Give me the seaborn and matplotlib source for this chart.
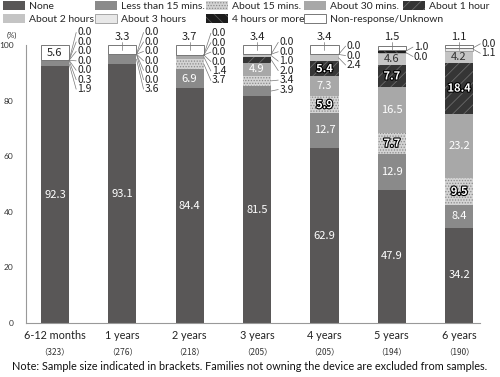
import matplotlib
matplotlib.use("Agg")
import numpy as np
import matplotlib.pyplot as plt
import matplotlib.patches as mpatches
import matplotlib.patheffects as pe
from matplotlib.transforms import blended_transform_factory
import seaborn as sns

# data (%)
categories = ["6-12 months", "1 years", "2 years", "3 years", "4 years", "5 years", "6 years"]
sample_sizes = [323, 276, 218, 205, 205, 194, 190]
none_vals = [92.3, 93.1, 84.4, 81.5, 62.9, 47.9, 34.2]
lt15_vals = [1.9, 3.6, 6.9, 3.9, 12.7, 12.9, 8.4]
m15_vals = [0.3, 0.0, 3.7, 3.4, 5.9, 7.7, 9.5]
m30_vals = [0.0, 0.0, 1.4, 4.9, 7.3, 16.5, 23.2]
h1_vals = [0.0, 0.0, 0.0, 2.0, 5.4, 7.7, 18.4]
h2_vals = [0.0, 0.0, 0.0, 1.0, 2.4, 4.6, 4.2]
h3_vals = [0.0, 0.0, 0.0, 0.0, 0.0, 0.0, 1.1]
h4_vals = [0.0, 0.0, 0.0, 0.0, 0.0, 1.0, 0.0]
nr_vals = [5.6, 3.3, 3.7, 3.4, 3.4, 1.5, 1.1]

series = [
    ("None", none_vals),
    ("Less than 15 mins.", lt15_vals),
    ("About 15 mins.", m15_vals),
    ("About 30 mins.", m30_vals),
    ("About 1 hour", h1_vals),
    ("About 2 hours", h2_vals),
    ("About 3 hours", h3_vals),
    ("4 hours or more", h4_vals),
    ("Non-response/Unknown", nr_vals),
]

# face, hatch, edge (hatch colour), edge width, text colour, outlined text
STYLE = {
    "None": ("#595757", None, "#595757", 0, "white", False),
    "Less than 15 mins.": ("#8a8a8a", None, "#8a8a8a", 0, "white", False),
    "About 15 mins.": ("#d4d4d4", "......", "#8a8a8a", 0, "white", True),
    "About 30 mins.": ("#a8a8a8", None, "#a8a8a8", 0, "white", False),
    "About 1 hour": ("#353535", "///", "#6a6a6a", 0, "white", True),
    "About 2 hours": ("#c4c4c4", None, "#c4c4c4", 0, "#333333", False),
    "About 3 hours": ("#e8e8e8", None, "#9a9a9a", 0.6, "#333333", False),
    "4 hours or more": ("#1c1c1c", "\\\\\\", "#555555", 0, "white", True),
    "Non-response/Unknown": ("#ffffff", None, "#777777", 0.7, "#222222", False),
}

sns.set_style("white")
plt.rcParams["font.family"] = ["Lato", "DejaVu Sans"]
plt.rcParams["hatch.linewidth"] = 0.6
NUM_FONT = ["Noto Sans CJK JP", "DejaVu Sans"]

fig = plt.figure(figsize=(5, 3.77), dpi=100)
ax = fig.add_axes([26 / 500, (377 - 323) / 377, (480 - 26) / 500, (323 - 45) / 377])

BAR_W = 0.42
bottom = np.zeros(len(categories))
segments = []  # (bar index, name, value, bottom)
for name, vals in series:
    face, hatch, edge, lw, _, _ = STYLE[name]
    sns.barplot(x=categories, y=vals, order=categories, bottom=bottom.copy(),
                color=face, saturation=1, errorbar=None, width=BAR_W,
                hatch=hatch, edgecolor=edge, linewidth=lw, ax=ax)
    for i, v in enumerate(vals):
        segments.append((i, name, v, bottom[i]))
    bottom = bottom + np.array(vals)

outline = [pe.withStroke(linewidth=1.6, foreground="black")]

# value labels
SMALL = 4.0
SP = 3.4
CEIL = 104.5
for i in range(len(categories)):
    segs = [s for s in segments if s[0] == i]
    small = []
    for _, name, v, b in segs:
        face, hatch, edge, lw, tcol, outl = STYLE[name]
        mid = b + v / 2
        if name == "Non-response/Unknown":
            if v >= SMALL:
                ax.text(i, mid, f"{v:.1f}", ha="center", va="center", fontsize=8,
                        color=tcol, family=NUM_FONT)
            else:
                ax.text(i, 101.0, f"{v:.1f}", ha="center", va="bottom", fontsize=8,
                        color=tcol, family=NUM_FONT, clip_on=False)
                ax.plot([i, i], [100.9, 98.3], color="#777777", lw=0.5, clip_on=False)
        elif v >= SMALL:
            ax.text(i, mid, f"{v:.1f}", ha="center", va="center", fontsize=8,
                    color=tcol, family=NUM_FONT,
                    fontweight="bold" if outl else "normal",
                    path_effects=outline if outl else None)
        else:
            small.append((v, mid))
    if not small:
        continue
    # stack the leader labels beside the bar, centred on their segments
    n = len(small)
    center = np.mean([m for _, m in small])
    ys = center + (np.arange(n) - (n - 1) / 2) * SP
    if ys[-1] > CEIL:
        ys = ys - (ys[-1] - CEIL)
    x_edge = i + BAR_W / 2
    x_lab = x_edge + 0.12
    for (v, mid), y in zip(small, ys):
        ax.plot([x_edge, x_lab - 0.015], [mid, y], color="#777777", lw=0.5, clip_on=False)
        ax.text(x_lab, y, f"{v:.1f}", ha="left", va="center", fontsize=7.5,
                color="#222222", family=NUM_FONT, clip_on=False)

# axes styling
ax.set_xlim(-0.43, 6.31)
ax.set_ylim(0, 100)
ax.set_yticks([0, 20, 40, 60, 80, 100])
ax.set_xlabel("")
ax.set_ylabel("")
for side in ["top", "right"]:
    ax.spines[side].set_visible(False)
for side in ["left", "bottom"]:
    ax.spines[side].set_color("#999999")
    ax.spines[side].set_linewidth(0.8)
ax.tick_params(axis="y", length=3, width=0.6, color="#999999", pad=6,
               labelsize=6, labelcolor="#333333")
ax.tick_params(axis="x", length=0, pad=5, labelsize=7.8, labelcolor="#222222")

trans = blended_transform_factory(ax.transData, ax.transAxes)
for i, n in enumerate(sample_sizes):
    ax.text(i, -0.104, f"（{n}）", transform=trans, ha="center", va="center",
            fontsize=6, color="#333333", family=NUM_FONT)

fig.text(12 / 500, 1 - 35 / 377, "(%)", ha="center", va="center", fontsize=5.5,
         color="#333333")
fig.text(12 / 500, 1 - 367 / 377,
         "Note: Sample size indicated in brackets. Families not owning the device are excluded from samples.",
         ha="left", va="center", fontsize=7.8, color="#111111")

# legend: five fixed columns, two rows
def handle(name):
    face, hatch, edge, lw, _, _ = STYLE[name]
    return mpatches.Patch(facecolor=face, hatch=hatch, edgecolor=edge,
                          linewidth=lw if lw else 0)

legend_cols = [
    (2, ["None", "About 2 hours"]),
    (94, ["Less than 15 mins.", "About 3 hours"]),
    (205, ["About 15 mins.", "4 hours or more"]),
    (303, ["About 30 mins.", "Non-response/Unknown"]),
    (402, ["About 1 hour"]),
]
for x, names in legend_cols:
    fig.legend(handles=[handle(n) for n in names], labels=names, loc="upper left",
               bbox_to_anchor=(x / 500, 1.0), frameon=False, fontsize=7.5,
               borderpad=0.1, borderaxespad=0, handlelength=2.1, handleheight=1.0,
               handletextpad=0.4, labelspacing=0.25)

fig.savefig("out.png", dpi=100)
